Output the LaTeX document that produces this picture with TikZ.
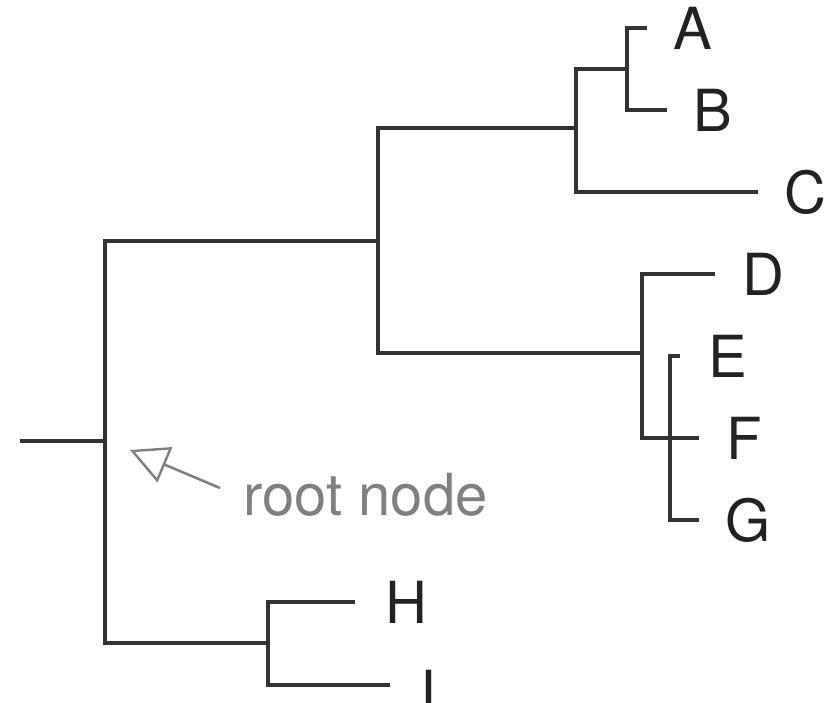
\documentclass[tikz,border=0pt]{standalone}
\usepackage{fontspec}
\setmainfont{TeX Gyre Heros}
\usepackage{xcolor}
\definecolor{treeline}{HTML}{333333}
\definecolor{leaftext}{HTML}{222222}
\definecolor{notegray}{HTML}{808080}
\usepackage{tikz}
\usetikzlibrary{arrows.meta,positioning}
\tikzset{
  branch/.style  = {draw=treeline,line width=1.8pt,line cap=rect},
  leaf/.style    = {inner sep=0pt,font=\fontsize{29pt}{30pt}\selectfont,
                    text=leaftext},
  pointer/.style = {-{Triangle[open,length=19pt,width=19pt,line width=1.2pt]},
                    draw=notegray,line width=1.3pt},
  note/.style    = {inner sep=0pt,font=\fontsize{29pt}{30pt}\selectfont,
                    text=notegray},
}

\begin{document}
\begin{tikzpicture}[x=0.5pt,y=-0.5pt]
    \useasboundingbox (0,0) rectangle (833,702);
    % junctions
    \coordinate (stem) at (22,441);
    \coordinate (root) at (105,441);
    \coordinate (n1) at (378,241);
    \coordinate (n2) at (576,128);
    \coordinate (n3) at (627,69);
    \coordinate (n4) at (642,353);
    \coordinate (n5) at (670,438);
    \coordinate (n6) at (268,643);
    % branch tips
    \coordinate (tA) at (645,28);
    \coordinate (tB) at (665,110);
    \coordinate (tC) at (756,192);
    \coordinate (tD) at (713,274);
    \coordinate (tE) at (678,356);
    \coordinate (tF) at (697,438);
    \coordinate (tG) at (697,520);
    \coordinate (tH) at (353,602);
    \coordinate (tI) at (388,685);
    % leaf labels
    \node[leaf,right=14pt of tA] (A) {A};
    \node[leaf,right=14pt of tB] (B) {B};
    \node[leaf,right=14pt of tC] (C) {C};
    \node[leaf,right=14.5pt of tD] (D) {D};
    \node[leaf,right=15pt of tE] (E) {E};
    \node[leaf,right=14.5pt of tF] (F) {F};
    \node[leaf,right=14pt of tG] (G) {G};
    \node[leaf,right=16pt of tH] (H) {H};
    \node[leaf,right=16pt of tI,yshift=-3pt] (I) {I};

    % the tree
    \draw[branch] (stem) -- (root);
    \draw[branch] (root) |- (n1);
    \draw[branch] (root) |- (n6);
    \draw[branch] (n1) |- (n2);
    \draw[branch] (n1) |- (n4);
    \draw[branch] (n2) |- (n3);
    \draw[branch] (n2) |- (tC);
    \draw[branch] (n3) |- (tA);
    \draw[branch] (n3) |- (tB);
    \draw[branch] (n4) |- (tD);
    \draw[branch] (n4) |- (tF);
    \draw[branch] (n5) |- (tE);
    \draw[branch] (n5) |- (tG);
    \draw[branch] (n6) |- (tH);
    \draw[branch] (n6) |- (tI);

    % callout
    \node[note,anchor=base west] (rootlbl) at (243,515) {root node};
    \coordinate (ptip) at (130,450);
    \coordinate (ptail) at (220,488);
    \draw[pointer] (ptail) -- (ptip);
\end{tikzpicture}
\end{document}
